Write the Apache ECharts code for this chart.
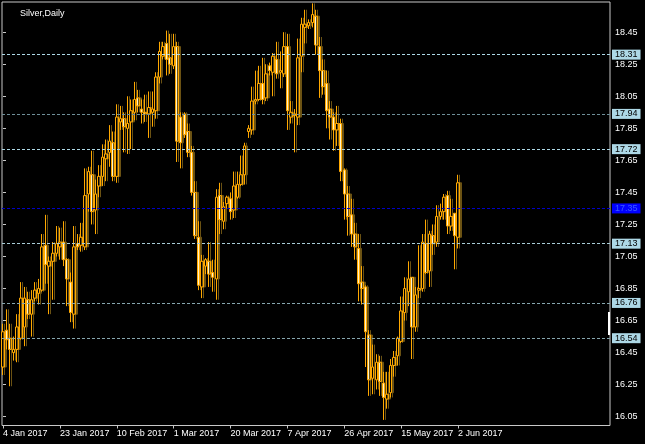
<!DOCTYPE html>
<html>
<head>
<meta charset="utf-8">
<script src="https://cdn.jsdelivr.net/npm/echarts@6/dist/echarts.min.js"></script>
<style>
html,body{margin:0;padding:0;background:#000;}
#chart{width:645px;height:444px;}
</style>
</head>
<body>
<div id="chart"></div>
<script>
// Bar index 0 = 4 Jan 2017 ... 128 = 2 Jun 2017 (daily bars incl. Sunday sessions)
const open  = [16.36,16.59,16.54,16.45,16.47,16.54,16.61,16.78,16.69,16.79,16.82,16.84,17.12,16.99,17.02,17.07,17.11,17.14,17.03,16.89,16.69,17.13,17.12,17.11,17.44,17.56,17.34,17.49,17.55,17.66,17.70,17.76,17.55,17.89,17.91,17.85,17.89,17.95,18.04,17.97,17.95,17.94,17.95,17.96,18.17,18.30,18.38,18.29,18.24,18.36,17.92,17.94,17.83,17.70,17.45,17.17,16.86,16.99,17.02,16.95,16.91,17.43,17.27,17.38,17.41,17.34,17.42,17.50,17.56,17.83,17.84,18.02,18.03,18.13,18.04,18.24,18.20,18.28,18.20,18.19,18.36,17.92,17.94,17.92,18.30,18.48,18.49,18.51,18.55,18.36,18.21,18.13,17.97,17.92,17.84,17.88,17.59,17.44,17.31,17.19,17.10,16.89,16.86,16.56,16.29,16.28,16.39,16.26,16.16,16.20,16.37,16.43,16.52,16.70,16.83,16.92,16.61,16.84,16.85,17.13,16.96,17.18,17.14,17.30,17.33,17.43,17.24,17.32,17.17];
const high  = [16.63,16.72,16.63,16.55,16.69,16.89,16.86,16.83,16.84,16.89,16.91,17.19,17.31,17.05,17.14,17.24,17.23,17.27,17.04,16.95,17.24,17.19,17.26,17.60,17.61,17.71,17.53,17.62,17.75,17.78,17.87,17.83,18.00,17.99,17.95,18.05,18.03,18.14,18.09,18.03,18.06,18.08,18.08,18.20,18.39,18.39,18.46,18.44,18.44,18.39,17.95,17.95,17.88,17.74,17.52,17.27,17.06,17.04,17.14,17.03,17.47,17.51,17.39,17.43,17.45,17.58,17.58,17.68,17.76,17.87,18.11,18.21,18.24,18.29,18.25,18.26,18.32,18.39,18.33,18.45,18.44,18.02,17.97,18.41,18.54,18.59,18.53,18.63,18.59,18.42,18.28,18.21,18.02,17.95,17.99,17.91,17.60,17.49,17.41,17.26,17.19,16.99,16.87,16.59,16.50,16.44,16.43,16.33,16.33,16.41,16.46,16.55,16.80,16.92,17.02,16.92,16.86,17.12,17.19,17.28,17.21,17.25,17.37,17.38,17.44,17.46,17.41,17.32,17.56];
const low   = [16.31,16.47,16.24,16.40,16.39,16.53,16.49,16.66,16.55,16.77,16.75,16.83,16.88,16.69,16.78,17.05,17.03,16.99,16.74,16.64,16.60,17.09,17.08,17.09,17.33,17.25,17.19,17.42,17.49,17.52,17.61,17.52,17.51,17.84,17.70,17.69,17.72,17.90,17.95,17.88,17.89,17.79,17.86,17.91,18.13,18.28,18.18,18.19,18.22,17.64,17.60,17.79,17.67,17.43,17.16,16.84,16.79,16.94,16.86,16.83,16.78,17.19,17.22,17.35,17.28,17.29,17.41,17.49,17.50,17.79,17.81,18.00,18.02,18.00,18.02,18.18,18.05,18.16,18.10,18.17,17.84,17.88,17.70,17.87,18.20,18.38,18.47,18.48,18.31,18.04,18.06,17.85,17.78,17.71,17.74,17.52,17.28,17.18,17.11,17.03,16.77,16.75,16.36,16.18,16.19,16.22,16.18,16.03,16.10,16.17,16.30,16.37,16.51,16.65,16.74,16.41,16.58,16.79,16.83,16.94,16.86,17.06,17.11,17.28,17.28,17.19,17.21,16.97,17.10];
const close = [16.58,16.53,16.47,16.47,16.61,16.79,16.79,16.69,16.78,16.84,16.85,17.11,17.00,17.02,17.07,17.13,17.14,17.03,16.91,16.70,17.11,17.11,17.17,17.43,17.58,17.33,17.44,17.55,17.67,17.69,17.77,17.55,17.92,17.91,17.86,17.88,17.96,18.03,17.99,17.95,17.94,17.98,17.97,18.17,18.33,18.36,18.28,18.25,18.36,17.77,17.76,17.81,17.70,17.45,17.18,16.87,17.02,17.03,16.94,16.92,17.42,17.28,17.36,17.42,17.33,17.49,17.50,17.56,17.74,17.85,18.02,18.03,18.13,18.03,18.19,18.21,18.30,18.19,18.21,18.36,17.96,17.95,17.93,18.29,18.50,18.50,18.51,18.56,18.37,18.21,18.11,17.96,17.92,17.84,17.88,17.58,17.44,17.30,17.19,17.11,16.88,16.85,16.58,16.28,16.36,16.39,16.27,16.17,16.19,16.37,16.42,16.54,16.71,16.85,16.91,16.61,16.81,16.85,17.14,16.95,17.19,17.13,17.30,17.33,17.42,17.24,17.30,17.18,17.51];

const xTickIndex  = [0,16,32,48,64,80,96,112,128];
const xTickLabels = ["4 Jan 2017","23 Jan 2017","10 Feb 2017","1 Mar 2017","20 Mar 2017","7 Apr 2017","26 Apr 2017","15 May 2017","2 Jun 2017"];
const yTicks = [16.05,16.25,16.45,16.65,16.85,17.05,17.25,17.45,17.65,17.85,18.05,18.25,18.45];

const levels      = [18.31,17.94,17.72,17.35,17.13,16.76,16.54];
const levelColors = ['#add8e6','#6f8f98','#add8e6','#0000c8','#a8ccd6','#86a6ae','#86a6ae'];
const levelBg     = ['#add8e6','#add8e6','#add8e6','#0000ff','#add8e6','#add8e6','#add8e6'];
const levelText   = ['#000000','#000000','#000000','#3a5cff','#000000','#000000','#000000'];
const lastPrice = 17.51;

const candles = open.map((o,i)=>[i,o,close[i],low[i],high[i]]);

const FONT = 'Liberation Sans';
const markData = levels.map((v,i)=>({
  yAxis: v,
  lineStyle:{color:levelColors[i], type:[3,2], width:1, opacity:1},
  label:{backgroundColor:levelBg[i], color:levelText[i]}
}));
markData.push({yAxis:lastPrice, lineStyle:{opacity:0}, label:{backgroundColor:'#ffffff', color:'#000000'}});

const chart = echarts.init(document.getElementById('chart'), null, {renderer:'canvas'});
chart.setOption({
  animation:false,
  backgroundColor:'#000000',
  title:{text:'Silver,Daily', left:15, top:4, textStyle:{color:'#ffffff', fontSize:9, fontWeight:'normal', fontFamily:FONT}},
  grid:{left:2, right:35, top:2, bottom:18.5, show:true, borderColor:'#c8c8c8', borderWidth:1, backgroundColor:'#000000'},
  xAxis:{
    type:'value', min:-0.28, max:170.75,
    splitLine:{show:false},
    axisLine:{show:false},
    axisTick:{show:true, customValues:xTickIndex, length:3, lineStyle:{color:'#c8c8c8'}},
    axisLabel:{customValues:xTickIndex, color:'#ffffff', fontSize:9, fontFamily:FONT, align:'left', margin:4,
      formatter:(v)=>{const k=xTickIndex.indexOf(Math.round(v)); return k>=0?xTickLabels[k]:'';}}
  },
  yAxis:{
    type:'value', position:'right', min:15.995, max:18.6385, scale:true,
    splitLine:{show:false},
    axisLine:{show:false},
    axisTick:{show:true, customValues:yTicks, length:3, lineStyle:{color:'#c8c8c8'}},
    axisLabel:{customValues:yTicks, color:'#ffffff', fontSize:9, fontFamily:FONT, margin:5,
      formatter:(v)=>v.toFixed(2)}
  },
  series:[{
    type:'candlestick',
    data:candles,
    encode:{x:0, y:[1,2,3,4]},
    barWidth:3,
    itemStyle:{
      color:'#000000', color0:'#fff3c8',
      borderColor:'#ffa800', borderColor0:'#ffa800', borderWidth:1,
      shadowColor:'#6b5213', shadowOffsetX:2, shadowOffsetY:0, shadowBlur:0
    },
    markLine:{
      silent:true, symbol:['none','none'], animation:false,
      label:{show:true, position:'end', distance:2, fontSize:9, fontFamily:FONT, padding:[1,3,0,3],
        formatter:(p)=>Number(p.value).toFixed(2)},
      data:markData
    }
  }],
  graphic:[{type:'rect', left:608, top:312, shape:{width:2, height:23}, style:{fill:'#ffffff'}}]
});
</script>
</body>
</html>
